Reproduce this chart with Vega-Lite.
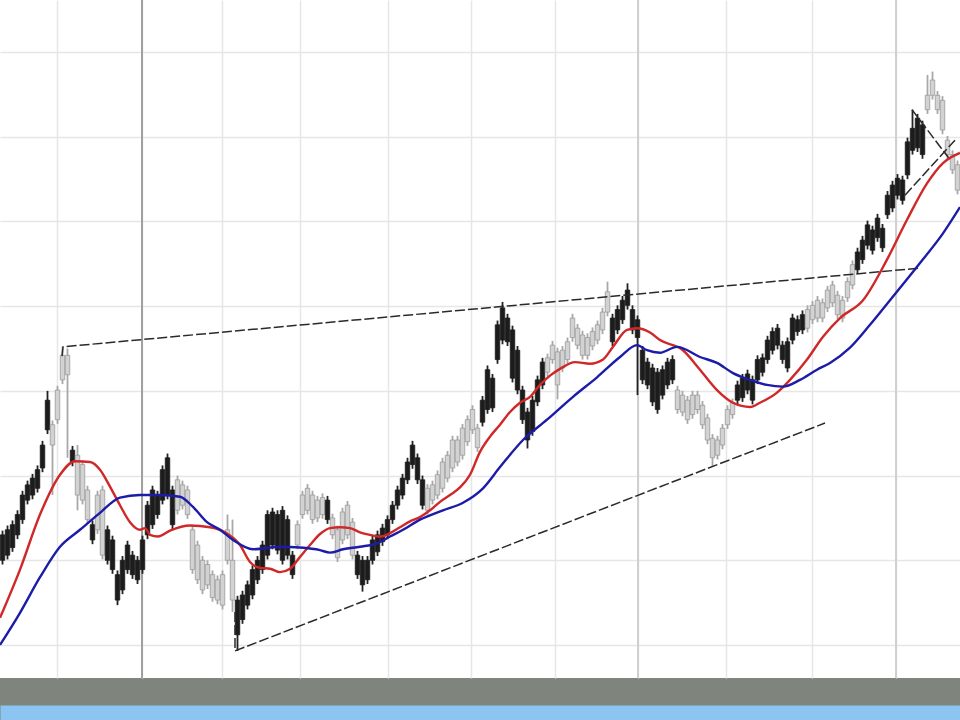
{
"$schema": "https://vega.github.io/schema/vega-lite/v6.json",
"width": 960, "height": 678,
"autosize": {"type": "none"},
"padding": {"left": 0, "top": 0, "right": 0, "bottom": 42},
"background": "#7f847d",
"view": {"fill": "white", "stroke": null},
"datasets": {
"bars": [
{"d":0,"o":20.0,"c":23.0,"h":23.5,"l":19.5,"t":"dark"},
{"d":1,"o":20.6,"c":23.6,"h":24.1,"l":20.1,"t":"dark"},
{"d":2,"o":21.5,"c":24.2,"h":24.7,"l":21.0,"t":"dark"},
{"d":3,"o":23.0,"c":25.4,"h":25.9,"l":22.5,"t":"dark"},
{"d":4,"o":24.8,"c":27.7,"h":28.2,"l":24.3,"t":"dark"},
{"d":5,"o":27.1,"c":28.9,"h":29.4,"l":26.6,"t":"dark"},
{"d":6,"o":27.7,"c":29.7,"h":30.2,"l":27.2,"t":"dark"},
{"d":7,"o":28.5,"c":30.7,"h":31.2,"l":28.0,"t":"dark"},
{"d":8,"o":30.9,"c":33.6,"h":34.1,"l":30.4,"t":"dark"},
{"d":9,"o":35.4,"c":38.9,"h":40.0,"l":34.9,"t":"dark"},
{"d":10,"o":33.6,"c":36.0,"h":36.5,"l":27.7,"t":"light"},
{"d":11,"o":36.6,"c":40.1,"h":40.6,"l":36.1,"t":"light"},
{"d":12,"o":41.3,"c":44.2,"h":45.2,"l":40.8,"t":"light"},
{"d":13,"o":41.9,"c":44.2,"h":45.0,"l":32.1,"t":"light"},
{"d":14,"o":31.6,"c":33.0,"h":33.5,"l":31.1,"t":"dark"},
{"d":15,"o":27.7,"c":32.4,"h":33.6,"l":25.9,"t":"light"},
{"d":16,"o":27.1,"c":31.3,"h":31.8,"l":26.6,"t":"light"},
{"d":17,"o":24.8,"c":28.3,"h":28.8,"l":24.3,"t":"light"},
{"d":18,"o":22.4,"c":24.2,"h":24.7,"l":21.9,"t":"dark"},
{"d":19,"o":23.6,"c":27.7,"h":28.2,"l":23.1,"t":"light"},
{"d":20,"o":20.6,"c":28.3,"h":28.8,"l":20.1,"t":"light"},
{"d":21,"o":20.0,"c":23.6,"h":24.1,"l":19.5,"t":"dark"},
{"d":22,"o":18.9,"c":22.4,"h":22.9,"l":18.4,"t":"dark"},
{"d":23,"o":15.3,"c":18.3,"h":18.8,"l":14.7,"t":"dark"},
{"d":24,"o":16.5,"c":20.0,"h":20.5,"l":16.0,"t":"dark"},
{"d":25,"o":18.9,"c":21.8,"h":22.3,"l":18.4,"t":"dark"},
{"d":26,"o":18.3,"c":20.6,"h":21.1,"l":17.8,"t":"dark"},
{"d":27,"o":17.7,"c":20.0,"h":20.5,"l":17.2,"t":"dark"},
{"d":28,"o":18.9,"c":22.4,"h":22.9,"l":18.4,"t":"dark"},
{"d":29,"o":23.0,"c":26.5,"h":27.0,"l":22.5,"t":"dark"},
{"d":30,"o":24.2,"c":28.3,"h":28.8,"l":23.7,"t":"dark"},
{"d":31,"o":25.4,"c":27.7,"h":28.2,"l":24.9,"t":"dark"},
{"d":32,"o":27.1,"c":30.7,"h":31.2,"l":26.6,"t":"dark"},
{"d":33,"o":27.7,"c":32.1,"h":32.6,"l":27.2,"t":"dark"},
{"d":34,"o":24.2,"c":28.3,"h":28.8,"l":23.7,"t":"dark"},
{"d":35,"o":25.9,"c":29.5,"h":30.0,"l":25.4,"t":"light"},
{"d":36,"o":26.5,"c":28.9,"h":29.4,"l":26.0,"t":"light"},
{"d":37,"o":25.4,"c":28.3,"h":28.8,"l":24.9,"t":"light"},
{"d":38,"o":18.9,"c":23.6,"h":24.1,"l":18.4,"t":"light"},
{"d":39,"o":17.7,"c":21.8,"h":22.3,"l":17.2,"t":"light"},
{"d":40,"o":16.5,"c":20.0,"h":20.5,"l":16.0,"t":"light"},
{"d":41,"o":17.1,"c":19.5,"h":20.0,"l":16.6,"t":"light"},
{"d":42,"o":15.6,"c":18.3,"h":18.8,"l":15.1,"t":"light"},
{"d":43,"o":15.3,"c":17.7,"h":18.2,"l":14.8,"t":"light"},
{"d":44,"o":14.7,"c":18.3,"h":18.8,"l":14.2,"t":"light"},
{"d":45,"o":20.0,"c":23.6,"h":25.4,"l":19.5,"t":"light"},
{"d":46,"o":15.3,"c":20.0,"h":24.8,"l":13.9,"t":"light"},
{"d":47,"o":11.2,"c":15.3,"h":15.8,"l":9.3,"t":"dark"},
{"d":48,"o":13.0,"c":15.9,"h":16.4,"l":12.5,"t":"dark"},
{"d":49,"o":14.7,"c":17.1,"h":17.6,"l":14.2,"t":"dark"},
{"d":50,"o":15.9,"c":18.9,"h":19.4,"l":15.4,"t":"dark"},
{"d":51,"o":17.7,"c":20.0,"h":20.5,"l":17.2,"t":"dark"},
{"d":52,"o":18.9,"c":21.8,"h":22.3,"l":18.4,"t":"dark"},
{"d":53,"o":20.6,"c":25.4,"h":25.9,"l":20.1,"t":"dark"},
{"d":54,"o":21.8,"c":25.7,"h":26.2,"l":21.3,"t":"dark"},
{"d":55,"o":21.2,"c":25.4,"h":25.9,"l":20.7,"t":"dark"},
{"d":56,"o":20.0,"c":25.9,"h":26.4,"l":19.5,"t":"dark"},
{"d":57,"o":20.6,"c":24.8,"h":25.3,"l":20.1,"t":"dark"},
{"d":58,"o":18.3,"c":20.6,"h":21.1,"l":17.8,"t":"dark"},
{"d":59,"o":21.8,"c":24.2,"h":24.7,"l":21.3,"t":"light"},
{"d":60,"o":25.4,"c":27.7,"h":28.2,"l":24.9,"t":"light"},
{"d":61,"o":25.9,"c":28.5,"h":29.0,"l":25.4,"t":"light"},
{"d":62,"o":24.8,"c":27.7,"h":28.2,"l":24.3,"t":"light"},
{"d":63,"o":25.0,"c":27.1,"h":27.6,"l":24.5,"t":"light"},
{"d":64,"o":25.4,"c":27.4,"h":27.9,"l":24.9,"t":"light"},
{"d":65,"o":24.8,"c":27.1,"h":27.6,"l":24.3,"t":"dark"},
{"d":66,"o":23.0,"c":25.0,"h":25.5,"l":22.5,"t":"light"},
{"d":67,"o":20.3,"c":23.6,"h":24.1,"l":19.8,"t":"light"},
{"d":68,"o":22.4,"c":25.7,"h":26.2,"l":21.9,"t":"light"},
{"d":69,"o":23.0,"c":26.5,"h":27.0,"l":22.5,"t":"light"},
{"d":70,"o":20.6,"c":24.5,"h":25.0,"l":20.1,"t":"light"},
{"d":71,"o":18.3,"c":20.6,"h":21.1,"l":17.8,"t":"dark"},
{"d":72,"o":17.1,"c":20.0,"h":20.5,"l":16.3,"t":"dark"},
{"d":73,"o":17.7,"c":20.0,"h":20.5,"l":17.2,"t":"dark"},
{"d":74,"o":20.0,"c":22.4,"h":22.9,"l":19.5,"t":"dark"},
{"d":75,"o":21.0,"c":23.0,"h":23.5,"l":20.5,"t":"dark"},
{"d":76,"o":22.2,"c":23.8,"h":24.3,"l":21.7,"t":"dark"},
{"d":77,"o":23.0,"c":24.8,"h":25.3,"l":22.5,"t":"dark"},
{"d":78,"o":24.8,"c":26.5,"h":27.0,"l":24.3,"t":"dark"},
{"d":79,"o":26.5,"c":28.3,"h":28.8,"l":26.0,"t":"dark"},
{"d":80,"o":27.7,"c":29.7,"h":30.2,"l":27.2,"t":"dark"},
{"d":81,"o":29.5,"c":31.6,"h":32.1,"l":29.0,"t":"dark"},
{"d":82,"o":31.3,"c":33.6,"h":34.1,"l":30.8,"t":"dark"},
{"d":83,"o":29.5,"c":32.1,"h":32.6,"l":29.0,"t":"dark"},
{"d":84,"o":26.5,"c":29.5,"h":30.0,"l":26.0,"t":"dark"},
{"d":85,"o":25.9,"c":28.5,"h":29.0,"l":25.4,"t":"light"},
{"d":86,"o":27.1,"c":28.9,"h":29.4,"l":26.6,"t":"light"},
{"d":87,"o":27.7,"c":30.1,"h":30.6,"l":27.2,"t":"light"},
{"d":88,"o":28.5,"c":31.6,"h":32.1,"l":28.0,"t":"light"},
{"d":89,"o":29.7,"c":32.4,"h":32.9,"l":29.2,"t":"light"},
{"d":90,"o":30.9,"c":34.2,"h":34.7,"l":30.4,"t":"light"},
{"d":91,"o":31.6,"c":34.2,"h":34.7,"l":31.1,"t":"light"},
{"d":92,"o":32.4,"c":35.6,"h":36.1,"l":31.9,"t":"light"},
{"d":93,"o":34.0,"c":36.6,"h":37.1,"l":33.5,"t":"light"},
{"d":94,"o":35.4,"c":37.8,"h":38.3,"l":34.9,"t":"light"},
{"d":95,"o":33.3,"c":35.6,"h":36.1,"l":32.8,"t":"light"},
{"d":96,"o":36.3,"c":38.9,"h":39.4,"l":35.8,"t":"dark"},
{"d":97,"o":37.8,"c":42.5,"h":43.0,"l":37.3,"t":"dark"},
{"d":98,"o":38.0,"c":41.5,"h":42.0,"l":37.5,"t":"dark"},
{"d":99,"o":43.7,"c":47.8,"h":48.3,"l":43.2,"t":"dark"},
{"d":100,"o":46.0,"c":49.8,"h":50.5,"l":45.5,"t":"dark"},
{"d":101,"o":45.8,"c":48.6,"h":49.1,"l":45.3,"t":"dark"},
{"d":102,"o":41.5,"c":47.2,"h":47.7,"l":41.0,"t":"dark"},
{"d":103,"o":40.1,"c":44.8,"h":45.3,"l":39.6,"t":"dark"},
{"d":104,"o":36.6,"c":40.1,"h":40.6,"l":36.1,"t":"dark"},
{"d":105,"o":34.2,"c":37.5,"h":38.0,"l":33.2,"t":"dark"},
{"d":106,"o":35.2,"c":38.9,"h":39.4,"l":34.7,"t":"dark"},
{"d":107,"o":38.7,"c":41.3,"h":41.8,"l":38.2,"t":"dark"},
{"d":108,"o":40.7,"c":43.4,"h":43.9,"l":40.2,"t":"dark"},
{"d":109,"o":42.2,"c":43.9,"h":44.4,"l":41.7,"t":"light"},
{"d":110,"o":43.7,"c":45.4,"h":45.9,"l":43.2,"t":"light"},
{"d":111,"o":40.7,"c":44.6,"h":45.1,"l":39.0,"t":"light"},
{"d":112,"o":42.7,"c":44.8,"h":45.3,"l":42.2,"t":"light"},
{"d":113,"o":43.7,"c":45.8,"h":46.3,"l":43.2,"t":"light"},
{"d":114,"o":46.3,"c":48.6,"h":49.1,"l":45.8,"t":"light"},
{"d":115,"o":45.4,"c":47.4,"h":47.9,"l":44.9,"t":"light"},
{"d":116,"o":44.2,"c":46.6,"h":47.1,"l":43.7,"t":"light"},
{"d":117,"o":44.2,"c":46.3,"h":46.8,"l":43.7,"t":"light"},
{"d":118,"o":45.3,"c":47.0,"h":47.5,"l":44.8,"t":"light"},
{"d":119,"o":46.0,"c":47.8,"h":48.3,"l":45.5,"t":"light"},
{"d":120,"o":47.2,"c":49.3,"h":49.8,"l":46.7,"t":"light"},
{"d":121,"o":49.3,"c":51.7,"h":52.9,"l":48.8,"t":"light"},
{"d":122,"o":45.8,"c":48.6,"h":49.1,"l":45.3,"t":"dark"},
{"d":123,"o":47.2,"c":49.6,"h":50.1,"l":46.7,"t":"dark"},
{"d":124,"o":48.4,"c":50.7,"h":51.2,"l":47.9,"t":"dark"},
{"d":125,"o":50.1,"c":51.9,"h":52.7,"l":49.6,"t":"dark"},
{"d":126,"o":47.2,"c":49.6,"h":50.1,"l":46.7,"t":"dark"},
{"d":127,"o":46.3,"c":48.4,"h":48.9,"l":39.5,"t":"dark"},
{"d":128,"o":41.3,"c":44.8,"h":45.3,"l":40.8,"t":"dark"},
{"d":129,"o":40.7,"c":43.4,"h":43.9,"l":40.2,"t":"dark"},
{"d":130,"o":38.7,"c":42.7,"h":43.2,"l":38.2,"t":"dark"},
{"d":131,"o":37.8,"c":42.2,"h":42.7,"l":37.3,"t":"dark"},
{"d":132,"o":39.5,"c":42.5,"h":43.0,"l":39.0,"t":"dark"},
{"d":133,"o":40.7,"c":43.4,"h":43.9,"l":40.2,"t":"dark"},
{"d":134,"o":41.3,"c":43.7,"h":44.2,"l":40.8,"t":"dark"},
{"d":135,"o":37.8,"c":40.1,"h":40.6,"l":37.3,"t":"light"},
{"d":136,"o":37.5,"c":39.5,"h":40.0,"l":37.0,"t":"light"},
{"d":137,"o":36.6,"c":38.9,"h":39.4,"l":36.1,"t":"light"},
{"d":138,"o":37.2,"c":39.5,"h":40.0,"l":36.7,"t":"light"},
{"d":139,"o":37.8,"c":39.5,"h":40.0,"l":37.3,"t":"light"},
{"d":140,"o":36.0,"c":38.3,"h":38.8,"l":35.5,"t":"light"},
{"d":141,"o":34.2,"c":36.8,"h":37.3,"l":33.7,"t":"light"},
{"d":142,"o":32.1,"c":34.4,"h":34.9,"l":31.1,"t":"light"},
{"d":143,"o":32.4,"c":34.2,"h":34.7,"l":31.9,"t":"light"},
{"d":144,"o":33.6,"c":35.6,"h":36.1,"l":33.1,"t":"light"},
{"d":145,"o":36.0,"c":37.8,"h":38.3,"l":35.5,"t":"light"},
{"d":146,"o":37.2,"c":38.6,"h":39.1,"l":36.7,"t":"light"},
{"d":147,"o":38.9,"c":40.7,"h":41.2,"l":38.4,"t":"dark"},
{"d":148,"o":39.2,"c":41.5,"h":42.0,"l":38.7,"t":"dark"},
{"d":149,"o":40.1,"c":42.0,"h":42.5,"l":39.6,"t":"dark"},
{"d":150,"o":38.9,"c":41.3,"h":41.8,"l":38.4,"t":"dark"},
{"d":151,"o":41.3,"c":43.7,"h":44.2,"l":40.8,"t":"dark"},
{"d":152,"o":42.2,"c":43.9,"h":44.4,"l":41.7,"t":"dark"},
{"d":153,"o":43.7,"c":46.0,"h":46.5,"l":43.2,"t":"dark"},
{"d":154,"o":44.8,"c":47.0,"h":47.5,"l":44.3,"t":"dark"},
{"d":155,"o":45.4,"c":47.4,"h":47.9,"l":44.9,"t":"dark"},
{"d":156,"o":43.7,"c":45.4,"h":45.9,"l":43.2,"t":"dark"},
{"d":157,"o":42.7,"c":45.8,"h":46.3,"l":42.2,"t":"dark"},
{"d":158,"o":46.0,"c":48.6,"h":49.1,"l":45.5,"t":"dark"},
{"d":159,"o":47.0,"c":48.4,"h":48.9,"l":46.5,"t":"dark"},
{"d":160,"o":47.2,"c":49.0,"h":49.5,"l":46.7,"t":"dark"},
{"d":161,"o":47.4,"c":49.6,"h":50.1,"l":46.9,"t":"light"},
{"d":162,"o":48.4,"c":50.1,"h":50.6,"l":47.9,"t":"light"},
{"d":163,"o":48.6,"c":50.7,"h":51.2,"l":48.1,"t":"light"},
{"d":164,"o":48.6,"c":50.4,"h":50.9,"l":48.1,"t":"light"},
{"d":165,"o":49.8,"c":51.9,"h":52.4,"l":49.3,"t":"light"},
{"d":166,"o":50.4,"c":52.5,"h":53.0,"l":49.9,"t":"light"},
{"d":167,"o":49.0,"c":51.3,"h":51.8,"l":48.5,"t":"light"},
{"d":168,"o":48.6,"c":50.7,"h":51.2,"l":48.1,"t":"light"},
{"d":169,"o":51.0,"c":52.9,"h":53.4,"l":50.5,"t":"light"},
{"d":170,"o":52.5,"c":54.9,"h":55.4,"l":52.0,"t":"light"},
{"d":171,"o":54.3,"c":56.4,"h":56.9,"l":53.8,"t":"dark"},
{"d":172,"o":55.5,"c":57.8,"h":58.3,"l":55.0,"t":"dark"},
{"d":173,"o":57.2,"c":59.6,"h":60.1,"l":56.7,"t":"dark"},
{"d":174,"o":56.6,"c":59.0,"h":59.5,"l":56.1,"t":"dark"},
{"d":175,"o":58.1,"c":60.4,"h":60.9,"l":57.6,"t":"dark"},
{"d":176,"o":56.9,"c":59.2,"h":59.7,"l":56.4,"t":"dark"},
{"d":177,"o":60.8,"c":63.1,"h":63.6,"l":60.3,"t":"dark"},
{"d":178,"o":61.6,"c":64.3,"h":64.8,"l":61.1,"t":"dark"},
{"d":179,"o":63.1,"c":65.1,"h":65.6,"l":62.6,"t":"dark"},
{"d":180,"o":62.5,"c":64.9,"h":65.4,"l":62.0,"t":"dark"},
{"d":181,"o":65.5,"c":69.4,"h":69.9,"l":65.0,"t":"dark"},
{"d":182,"o":68.4,"c":71.0,"h":73.2,"l":67.9,"t":"dark"},
{"d":183,"o":68.7,"c":72.2,"h":72.7,"l":68.2,"t":"dark"},
{"d":184,"o":67.9,"c":71.4,"h":71.9,"l":67.4,"t":"dark"},
{"d":185,"o":73.2,"c":74.9,"h":77.3,"l":72.7,"t":"light"},
{"d":186,"o":74.9,"c":76.7,"h":77.7,"l":74.4,"t":"light"},
{"d":187,"o":73.2,"c":74.9,"h":75.4,"l":72.7,"t":"light"},
{"d":188,"o":70.8,"c":74.3,"h":74.8,"l":70.3,"t":"light"},
{"d":189,"o":67.9,"c":69.6,"h":70.1,"l":67.4,"t":"light"},
{"d":190,"o":66.1,"c":67.9,"h":68.4,"l":65.6,"t":"light"},
{"d":191,"o":63.7,"c":66.7,"h":67.2,"l":63.2,"t":"light"}
],
"ma": [
{"ma":"fast","d":-0.5,"p":13.2},{"ma":"fast","d":3.5,"p":18.9},{"ma":"fast","d":7.5,"p":25.4},{"ma":"fast","d":11.5,"p":30.1},{"ma":"fast","d":14.5,"p":31.7},{"ma":"fast","d":17.5,"p":31.6},{"ma":"fast","d":19.5,"p":30.7},{"ma":"fast","d":21.5,"p":28.7},{"ma":"fast","d":23.5,"p":26.5},{"ma":"fast","d":25.5,"p":24.5},{"ma":"fast","d":27.5,"p":23.6},{"ma":"fast","d":28.5,"p":23.8},{"ma":"fast","d":29.5,"p":23.0},{"ma":"fast","d":31.1,"p":22.8},{"ma":"fast","d":33.5,"p":23.5},{"ma":"fast","d":37.5,"p":24.1},{"ma":"fast","d":41.5,"p":23.9},{"ma":"fast","d":44.5,"p":23.3},{"ma":"fast","d":47.5,"p":21.8},{"ma":"fast","d":49.5,"p":19.8},{"ma":"fast","d":51.5,"p":19.1},{"ma":"fast","d":53.5,"p":19.0},{"ma":"fast","d":55.5,"p":18.6},{"ma":"fast","d":57.5,"p":19.0},{"ma":"fast","d":59.5,"p":20.4},{"ma":"fast","d":61.5,"p":21.8},{"ma":"fast","d":63.5,"p":23.1},{"ma":"fast","d":65.5,"p":23.8},{"ma":"fast","d":67.5,"p":23.9},{"ma":"fast","d":69.5,"p":23.8},{"ma":"fast","d":71.5,"p":23.3},{"ma":"fast","d":73.5,"p":23.0},{"ma":"fast","d":75.5,"p":22.8},{"ma":"fast","d":77.5,"p":23.2},{"ma":"fast","d":79.5,"p":23.9},{"ma":"fast","d":81.5,"p":24.6},{"ma":"fast","d":83.5,"p":25.1},{"ma":"fast","d":85.5,"p":25.9},{"ma":"fast","d":87.5,"p":26.9},{"ma":"fast","d":89.5,"p":27.7},{"ma":"fast","d":91.5,"p":28.6},{"ma":"fast","d":93.5,"p":30.1},{"ma":"fast","d":95.5,"p":32.8},{"ma":"fast","d":97.5,"p":34.6},{"ma":"fast","d":99.5,"p":36.0},{"ma":"fast","d":101.5,"p":37.5},{"ma":"fast","d":103.5,"p":38.6},{"ma":"fast","d":105.5,"p":39.3},{"ma":"fast","d":107.5,"p":40.7},{"ma":"fast","d":109.5,"p":41.8},{"ma":"fast","d":111.5,"p":42.6},{"ma":"fast","d":114.5,"p":43.4},{"ma":"fast","d":117.5,"p":43.2},{"ma":"fast","d":120.1,"p":43.7},{"ma":"fast","d":122.1,"p":45.2},{"ma":"fast","d":124.9,"p":47.2},{"ma":"fast","d":126.9,"p":47.4},{"ma":"fast","d":129.5,"p":46.9},{"ma":"fast","d":131.5,"p":46.0},{"ma":"fast","d":136.1,"p":44.8},{"ma":"fast","d":139.5,"p":42.5},{"ma":"fast","d":142.9,"p":40.1},{"ma":"fast","d":146.1,"p":38.6},{"ma":"fast","d":149.5,"p":38.1},{"ma":"fast","d":151.5,"p":38.6},{"ma":"fast","d":154.9,"p":39.8},{"ma":"fast","d":157.5,"p":41.3},{"ma":"fast","d":160.9,"p":43.7},{"ma":"fast","d":164.1,"p":46.4},{"ma":"fast","d":167.5,"p":48.6},{"ma":"fast","d":172.1,"p":50.7},{"ma":"fast","d":176.9,"p":55.5},{"ma":"fast","d":180.9,"p":60.2},{"ma":"fast","d":184.9,"p":64.5},{"ma":"fast","d":188.1,"p":66.9},{"ma":"fast","d":191.5,"p":68.1},
{"ma":"slow","d":-0.5,"p":10.0},{"ma":"slow","d":3.5,"p":13.8},{"ma":"slow","d":7.5,"p":18.0},{"ma":"slow","d":11.5,"p":21.6},{"ma":"slow","d":15.5,"p":23.6},{"ma":"slow","d":19.5,"p":25.6},{"ma":"slow","d":23.5,"p":27.4},{"ma":"slow","d":27.5,"p":27.7},{"ma":"slow","d":31.5,"p":27.7},{"ma":"slow","d":35.5,"p":27.5},{"ma":"slow","d":38.1,"p":26.3},{"ma":"slow","d":40.9,"p":24.5},{"ma":"slow","d":43.5,"p":23.6},{"ma":"slow","d":46.1,"p":22.4},{"ma":"slow","d":50.1,"p":21.3},{"ma":"slow","d":55.5,"p":21.6},{"ma":"slow","d":59.5,"p":21.5},{"ma":"slow","d":63.5,"p":21.2},{"ma":"slow","d":65.5,"p":20.9},{"ma":"slow","d":68.1,"p":21.3},{"ma":"slow","d":71.5,"p":21.6},{"ma":"slow","d":74.9,"p":22.0},{"ma":"slow","d":77.5,"p":22.8},{"ma":"slow","d":80.1,"p":23.6},{"ma":"slow","d":83.5,"p":24.8},{"ma":"slow","d":88.1,"p":25.9},{"ma":"slow","d":92.1,"p":26.8},{"ma":"slow","d":96.1,"p":28.5},{"ma":"slow","d":99.5,"p":31.0},{"ma":"slow","d":104.1,"p":34.2},{"ma":"slow","d":108.9,"p":36.6},{"ma":"slow","d":114.1,"p":39.3},{"ma":"slow","d":118.9,"p":41.6},{"ma":"slow","d":123.5,"p":44.0},{"ma":"slow","d":126.9,"p":45.4},{"ma":"slow","d":128.9,"p":44.8},{"ma":"slow","d":131.5,"p":44.5},{"ma":"slow","d":134.9,"p":45.2},{"ma":"slow","d":139.5,"p":44.0},{"ma":"slow","d":142.9,"p":43.3},{"ma":"slow","d":146.1,"p":42.1},{"ma":"slow","d":149.5,"p":41.3},{"ma":"slow","d":152.9,"p":40.7},{"ma":"slow","d":156.1,"p":40.5},{"ma":"slow","d":159.5,"p":41.3},{"ma":"slow","d":162.9,"p":42.5},{"ma":"slow","d":165.5,"p":43.3},{"ma":"slow","d":169.5,"p":45.1},{"ma":"slow","d":173.5,"p":47.8},{"ma":"slow","d":177.5,"p":50.7},{"ma":"slow","d":183.5,"p":55.1},{"ma":"slow","d":188.1,"p":58.6},{"ma":"slow","d":191.5,"p":61.7}
],
"trend": [
{"seg":"resistance","k":1,"d":11.9,"p":44.1},{"seg":"resistance","k":2,"d":12.1,"p":45.2},{"seg":"resistance","k":3,"d":183.5,"p":54.5},
{"seg":"support","k":1,"d":46.5,"p":13.9},{"seg":"support","k":2,"d":46.5,"p":9.3},{"seg":"support","k":3,"d":164.5,"p":36.2},
{"seg":"wedgeA","k":1,"d":181.9,"p":73.2},{"seg":"wedgeA","k":2,"d":189.5,"p":67.3},
{"seg":"wedgeB","k":1,"d":180.5,"p":63.1},{"seg":"wedgeB","k":2,"d":190.5,"p":69.6}
],
"major": [{"d":27.9,"w":"strong"},{"d":127.1,"w":"mid"},{"d":178.7,"w":"mid"}]
},
"encoding": {
"x": {"type": "quantitative", "scale": {"domain": [-0.5, 191.5], "nice": false, "zero": false, "padding": 0},
"axis": {"values": [10.9, 27.9, 43.9, 59.5, 77.1, 93.7, 110.5, 127.1, 144.7, 161.9, 178.7], "grid": true, "gridColor": "#e6e6e6", "gridWidth": 1.5, "labels": false, "ticks": false, "title": null, "domain": true, "domainColor": "#8cc4f2", "domainWidth": 15, "offset": 34.5}},
"y": {"type": "quantitative", "scale": {"domain": [6.1, 86.15], "nice": false, "zero": false, "padding": 0},
"axis": {"values": [10, 20, 30, 40, 50, 60, 70, 80], "grid": true, "gridColor": "#e6e6e6", "gridWidth": 1.5, "labels": false, "ticks": false, "title": null, "domain": false}}
},
"layer": [
{"data": {"name": "major"}, "mark": {"type": "rule", "strokeWidth": 2},
 "encoding": {"x": {"field": "d"}, "y": {"datum": 86.15}, "y2": {"datum": 6.1},
 "color": {"condition": {"test": "datum.w == 'strong'", "value": "#a0a0a0"}, "value": "#d0d0d0"}}},
{"data": {"name": "bars"}, "mark": {"type": "rule", "strokeWidth": 1.8},
 "encoding": {"x": {"field": "d"}, "y": {"field": "l"}, "y2": {"field": "h"},
 "color": {"condition": {"test": "datum.t == 'dark'", "value": "#222222"}, "value": "#a8a8a8"}}},
{"data": {"name": "bars"}, "mark": {"type": "bar", "width": 4.5, "strokeWidth": 0.8},
 "encoding": {"x": {"field": "d"}, "y": {"field": "o"}, "y2": {"field": "c"},
 "fill": {"condition": {"test": "datum.t == 'dark'", "value": "#1c1c1c"}, "value": "#d2d2d2"},
 "stroke": {"condition": {"test": "datum.t == 'dark'", "value": "#1c1c1c"}, "value": "#9a9a9a"}}},
{"data": {"name": "trend"}, "mark": {"type": "line", "color": "#2a2a2a", "strokeWidth": 1.5, "strokeDash": [10, 3], "clip": true},
 "encoding": {"x": {"field": "d"}, "y": {"field": "p"}, "detail": {"field": "seg"}, "order": {"field": "k"}}},
{"data": {"name": "ma"}, "mark": {"type": "line", "strokeWidth": 2.4, "interpolate": "monotone", "clip": true},
 "encoding": {"x": {"field": "d"}, "y": {"field": "p"},
 "color": {"field": "ma", "type": "nominal", "scale": {"domain": ["fast", "slow"], "range": ["#d02828", "#1c1ca8"]}, "legend": null}}}
]
}
